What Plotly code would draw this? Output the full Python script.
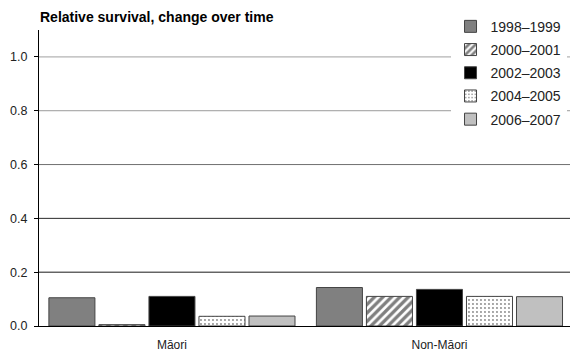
import plotly.graph_objects as go

categories = ["Māori", "Non-Māori"]
periods = ["1998–1999", "2000–2001", "2002–2003", "2004–2005", "2006–2007"]
values = {
    "1998–1999": [0.105, 0.143],
    "2000–2001": [0.005, 0.110],
    "2002–2003": [0.110, 0.136],
    "2004–2005": [0.036, 0.110],
    "2006–2007": [0.037, 0.109],
}
tick_vals = [0.0, 0.2, 0.4, 0.6, 0.8, 1.0]
tick_text = ["0.0", "0.2", "0.4", "0.6", "0.8", "1.0"]
grid_colors = {0.2: "#1a1a1a", 0.4: "#2a2a2a", 0.6: "#707070", 0.8: "#9a9a9a", 1.0: "#a0a0a0"}

styles = {
    "1998–1999": dict(color="#808080"),
    "2000–2001": dict(color="white", pattern=dict(shape="/", fgcolor="black", bgcolor="white", size=6, solidity=0.55)),
    "2002–2003": dict(color="black"),
    "2004–2005": dict(color="white", pattern=dict(shape=".", fgcolor="#111111", bgcolor="white", size=4, solidity=0.18)),
    "2006–2007": dict(color="#c0c0c0"),
}

fig = go.Figure()
for i, p in enumerate(periods):
    st = styles[p]
    marker = dict(color=st["color"], line=dict(color="#444444", width=1))
    if "pattern" in st:
        marker["pattern"] = st["pattern"]
    fig.add_trace(go.Bar(name=p, x=categories, y=values[p], marker=marker, legendgroup=f"g{i}"))

for v, c in grid_colors.items():
    fig.add_shape(type="line", xref="paper", yref="y", x0=0, x1=1, y0=v, y1=v,
                  line=dict(color=c, width=1), layer="below")

fig.update_layout(
    width=570, height=359,
    margin=dict(l=39, r=0, t=30, b=33),
    paper_bgcolor="white", plot_bgcolor="white",
    font=dict(family="Liberation Sans, Arial, sans-serif", color="#222222", size=12),
    barmode="group", bargap=0.065, bargroupgap=0.08,
    title=dict(text="<b>Relative survival, change over time</b>", x=40/570, xanchor="left",
               xref="container", y=1 - 17/359, yref="container", yanchor="middle",
               font=dict(size=14, color="black")),
    legend=dict(x=0.775, y=1.065, xanchor="left", yanchor="top", bgcolor="white",
                font=dict(size=14, color="#222222"), tracegroupgap=2,
                itemwidth=30),
    xaxis=dict(range=[-0.497, 1.488], showline=True, linecolor="black", ticks="", showgrid=False,
               tickfont=dict(size=12), ticklabelstandoff=8),
    yaxis=dict(range=[0, 1.1], tickvals=tick_vals, ticktext=tick_text, showgrid=False,
               showline=True, linecolor="black", ticks="outside", ticklen=4, tickcolor="black",
               zeroline=False, tickfont=dict(size=12.5), ticklabelstandoff=4),
)

fig.write_html("out.html", config={"displayModeBar": False},
               post_script="document.body.style.margin='0px';")
